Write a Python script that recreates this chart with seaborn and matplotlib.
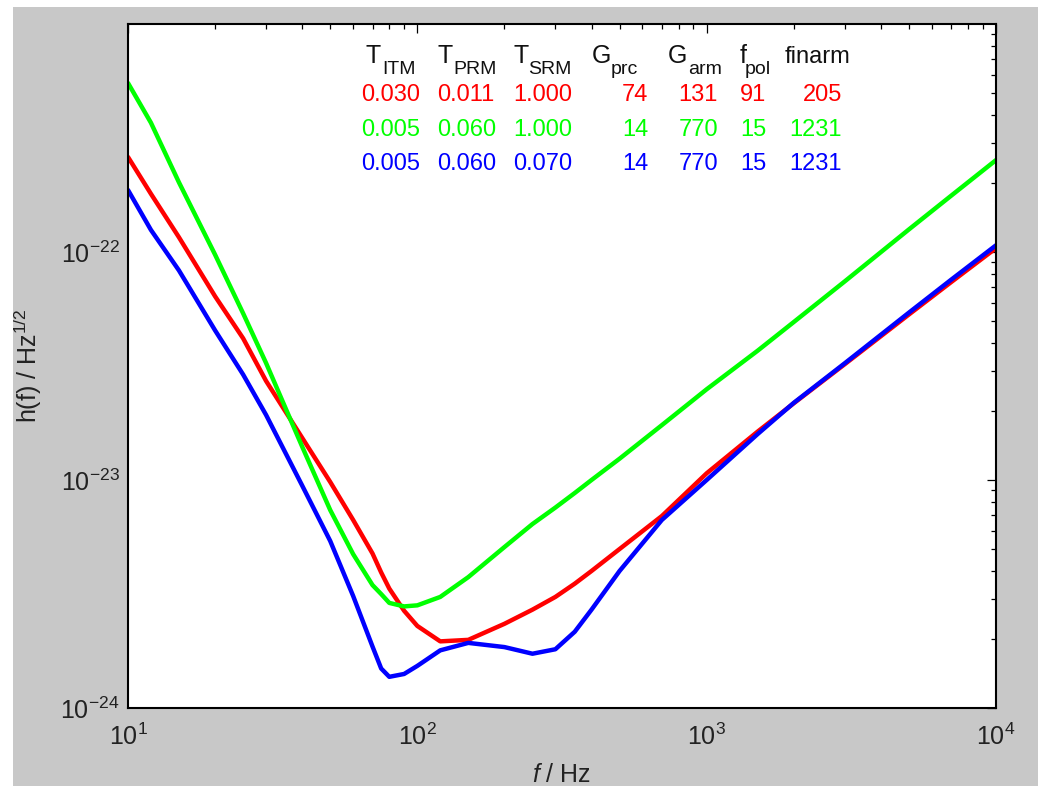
import numpy as np
import pandas as pd
import matplotlib
matplotlib.use("Agg")
import matplotlib.pyplot as plt
from matplotlib.patches import Rectangle
from matplotlib.ticker import LogLocator, NullFormatter, LogFormatterMathtext
import seaborn as sns

# ---------------- data ----------------
freq = [10, 12, 15, 20, 25, 30, 40, 50, 60, 70, 75, 80, 90, 100, 120, 150,
        200, 250, 300, 350, 400, 500, 700, 1000, 1500, 2000, 3000, 5000, 7000, 10000]

h_red = [2.61e-22, 1.80e-22, 1.16e-22, 6.39e-23, 4.18e-23, 2.72e-23, 1.53e-23,
         9.80e-24, 6.68e-24, 4.76e-24, 3.93e-24, 3.34e-24, 2.67e-24, 2.29e-24,
         1.96e-24, 1.99e-24, 2.34e-24, 2.70e-24, 3.07e-24, 3.51e-24, 3.99e-24,
         4.98e-24, 6.95e-24, 1.07e-23, 1.63e-23, 2.17e-23, 3.22e-23, 5.32e-23,
         7.38e-23, 1.04e-22]

h_green = [5.51e-22, 3.69e-22, 2.02e-22, 9.73e-23, 5.38e-23, 3.26e-23, 1.40e-23,
           7.38e-24, 4.73e-24, 3.46e-24, 3.16e-24, 2.89e-24, 2.79e-24, 2.82e-24,
           3.07e-24, 3.75e-24, 5.08e-24, 6.41e-24, 7.57e-24, 8.77e-24, 1.00e-23,
           1.24e-23, 1.74e-23, 2.50e-23, 3.69e-23, 4.93e-23, 7.43e-23, 1.256e-22,
           1.766e-22, 2.53e-22]

h_blue = [1.87e-22, 1.25e-22, 8.30e-23, 4.53e-23, 2.90e-23, 1.93e-23, 9.45e-24,
          5.40e-24, 3.10e-24, 1.86e-24, 1.49e-24, 1.37e-24, 1.41e-24, 1.53e-24,
          1.79e-24, 1.93e-24, 1.85e-24, 1.73e-24, 1.81e-24, 2.16e-24, 2.70e-24,
          3.99e-24, 6.68e-24, 1.00e-23, 1.59e-23, 2.18e-23, 3.25e-23, 5.42e-23,
          7.56e-23, 1.07e-22]

series_names = ["red", "green", "blue"]
series_colors = ["#ff0000", "#00ff00", "#0000ff"]

# parameter table
t_itm = [0.030, 0.005, 0.005]
t_prm = [0.011, 0.060, 0.060]
t_srm = [1.000, 1.000, 0.070]
g_prc = [74, 14, 14]
g_arm = [131, 770, 770]
f_pol = [91, 15, 15]
finarm = [205, 1231, 1231]

# ---------------- style ----------------
sns.set_style("white")
plt.rcParams["font.family"] = ["Liberation Sans", "DejaVu Sans"]
plt.rcParams["mathtext.fontset"] = "custom"
plt.rcParams["mathtext.rm"] = "Liberation Sans"
plt.rcParams["mathtext.it"] = "Liberation Sans:italic"
plt.rcParams["mathtext.default"] = "regular"
plt.rcParams["axes.unicode_minus"] = False

W, H = 1038, 786
fig = plt.figure(figsize=(W / 100, H / 100), dpi=100)
fig.patch.set_facecolor("white")
fig.patches.append(Rectangle((13 / W, 0), 1 - 13 / W, 1 - 7 / H,
                             transform=fig.transFigure, facecolor="#c8c8c8",
                             edgecolor="none", zorder=-10))

ax = fig.add_axes([128 / W, 1 - 708 / H, 868 / W, 684 / H])
ax.set_facecolor("white")

df = pd.concat([
    pd.DataFrame({"f": freq, "h": vals, "series": name})
    for name, vals in zip(series_names, [h_red, h_green, h_blue])
], ignore_index=True)

sns.lineplot(data=df, x="f", y="h", hue="series", hue_order=series_names,
             palette=series_colors, estimator=None, sort=False, lw=3.2,
             legend=False, ax=ax)

ax.set_xscale("log")
ax.set_yscale("log")
ax.set_xlim(10, 1e4)
ax.set_ylim(1e-24, 1e-21)

ax.set_xticks([10, 100, 1000, 10000])
ax.set_yticks([1e-24, 1e-23, 1e-22])
ax.xaxis.set_major_formatter(LogFormatterMathtext())
ax.yaxis.set_major_formatter(LogFormatterMathtext())
ax.xaxis.set_minor_locator(LogLocator(base=10, subs=np.arange(2, 10), numticks=20))
ax.yaxis.set_minor_locator(LogLocator(base=10, subs=np.arange(2, 10), numticks=20))
ax.xaxis.set_minor_formatter(NullFormatter())
ax.yaxis.set_minor_formatter(NullFormatter())

ax.tick_params(which="both", direction="in", top=True, right=True,
               color="black", width=0.9, labelsize=18, labelcolor="#222222")
ax.tick_params(which="major", length=6.5)
ax.tick_params(which="minor", length=3.8)
ax.tick_params(axis="x", which="major", pad=11)
ax.tick_params(axis="y", which="major", pad=6)

for sp in ax.spines.values():
    sp.set_linewidth(1.5)
    sp.set_color("black")

ax.set_xlabel(r"$\mathit{f}$ / Hz", fontsize=18, color="#222222")
ax.set_ylabel(r"h(f) / Hz$^{1/2}$", fontsize=18, color="#222222")
ax.xaxis.set_label_coords(0.5, -0.08)
ax.yaxis.set_label_coords(-0.097, 0.5)

# ---------------- parameter table ----------------
def fx(x):
    return x / W

def fy(y):
    return 1 - y / H

hdr_main_size = 18
hdr_sub_size = 14
headers = [("T", "ITM", 365, 382), ("T", "PRM", 437, 453), ("T", "SRM", 513, 528),
           ("G", "prc", 592, 611), ("G", "arm", 668, 688), ("f", "pol", 740, 745)]
for main, sub, xm, xs in headers:
    fig.text(fx(xm), fy(63), main, fontsize=hdr_main_size, color="#111111",
             ha="left", va="baseline")
    fig.text(fx(xs), fy(74), sub, fontsize=hdr_sub_size, color="#111111",
             ha="left", va="baseline")
fig.text(fx(785), fy(63), "finarm", fontsize=17, color="#111111",
         ha="left", va="baseline")

row_y = [101, 136, 170]
for i, (c, yb) in enumerate(zip(series_colors, row_y)):
    cells = [
        (f"{t_itm[i]:.3f}", 361, "left"),
        (f"{t_prm[i]:.3f}", 437, "left"),
        (f"{t_srm[i]:.3f}", 513, "left"),
        (f"{g_prc[i]}", 648, "right"),
        (f"{g_arm[i]}", 718, "right"),
        (f"{f_pol[i]}", 740, "left"),
        (f"{finarm[i]}", 842, "right"),
    ]
    for txt, x, ha in cells:
        fig.text(fx(x), fy(yb), txt, fontsize=17, color=c, ha=ha, va="baseline")

fig.savefig("out.png", dpi=100, facecolor=fig.get_facecolor())
